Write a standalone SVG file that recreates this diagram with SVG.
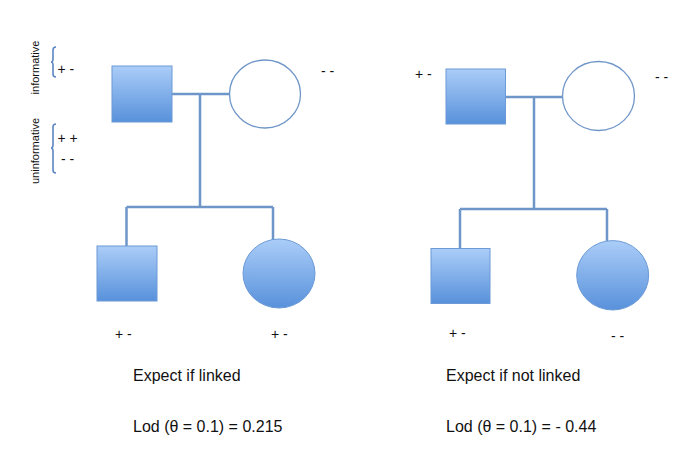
<svg xmlns="http://www.w3.org/2000/svg" width="696" height="453" viewBox="0 0 696 453">
<style>
.txt{font-family:"Liberation Sans",Arial,sans-serif;fill:#111;}
.geno{font-size:14px;}
.cap{font-size:16px;}
.side{font-size:11px;}
.line{stroke:#6f96c8;stroke-width:2.5;fill:none;}
.aff{fill:url(#g);stroke:#6b9ad6;stroke-width:1;}
.un{fill:#fff;stroke:#6f96c8;stroke-width:1.3;}
.br{stroke:#5b86c4;stroke-width:1.6;fill:none;}
</style>
<defs>
<linearGradient id="g" x1="0" y1="0" x2="0" y2="1">
<stop offset="0" stop-color="#abcdf8"/>
<stop offset="1" stop-color="#5891db"/>
</linearGradient>
</defs>
<rect width="696" height="453" fill="#fff"/>
<g id="connectors">
<path class="line" d="M172,94 H230 M200,94 V207 M126.5,207 H273 M126.5,207 V246 M273,207 V240"/>
<path class="line" d="M505,97 H563 M534,97 V209 M460,209 H607 M460,209 V249 M607,209 V241"/>
</g>
<g id="father1"><rect class="aff" x="112" y="66" width="60" height="56"/></g>
<g id="mother1"><ellipse class="un" cx="265" cy="94" rx="35.5" ry="34"/></g>
<g id="son1"><rect class="aff" x="97" y="246" width="60" height="55"/></g>
<g id="daughter1"><ellipse class="aff" cx="279" cy="273.5" rx="36" ry="34.5"/></g>
<g id="father2"><rect class="aff" x="446" y="69" width="59.5" height="55"/></g>
<g id="mother2"><ellipse class="un" cx="598.5" cy="96" rx="36" ry="34.5"/></g>
<g id="son2"><rect class="aff" x="431" y="248.5" width="59" height="55"/></g>
<g id="daughter2"><ellipse class="aff" cx="612.7" cy="275.3" rx="36" ry="34.7"/></g>
<g id="legend">
<text class="txt side" transform="translate(38.5,67.5) rotate(-90)" text-anchor="middle">informative</text>
<text class="txt side" transform="translate(38.5,151) rotate(-90)" text-anchor="middle">uninformative</text>
<path class="br" d="M56,47 Q53,47 53,50 V59 Q53,62 51,62 Q53,62 53,65 V74 Q53,77 56,77"/>
<path class="br" d="M56,124 Q53,124 53,127 V145 Q53,148 51,148 Q53,148 53,151 V170 Q53,173 56,173"/>
<text class="txt geno" x="57.5" y="74">+ -</text>
<text class="txt geno" x="57.5" y="143">+ +</text>
<text class="txt geno" x="61" y="164">- -</text>
</g>
<g id="labels">
<text class="txt geno" x="321" y="76">- -</text>
<text class="txt geno" x="115" y="339">+ -</text>
<text class="txt geno" x="271" y="339">+ -</text>
<text class="txt geno" x="415" y="79">+ -</text>
<text class="txt geno" x="655" y="82">- -</text>
<text class="txt geno" x="449" y="338">+ -</text>
<text class="txt geno" x="611" y="341">- -</text>
<text class="txt cap" x="133" y="381">Expect if linked</text>
<text class="txt cap" x="133" y="432">Lod (θ = 0.1) = 0.215</text>
<text class="txt cap" x="446" y="381">Expect if not linked</text>
<text class="txt cap" x="446" y="432">Lod (θ = 0.1) = - 0.44</text>
</g>
</svg>
